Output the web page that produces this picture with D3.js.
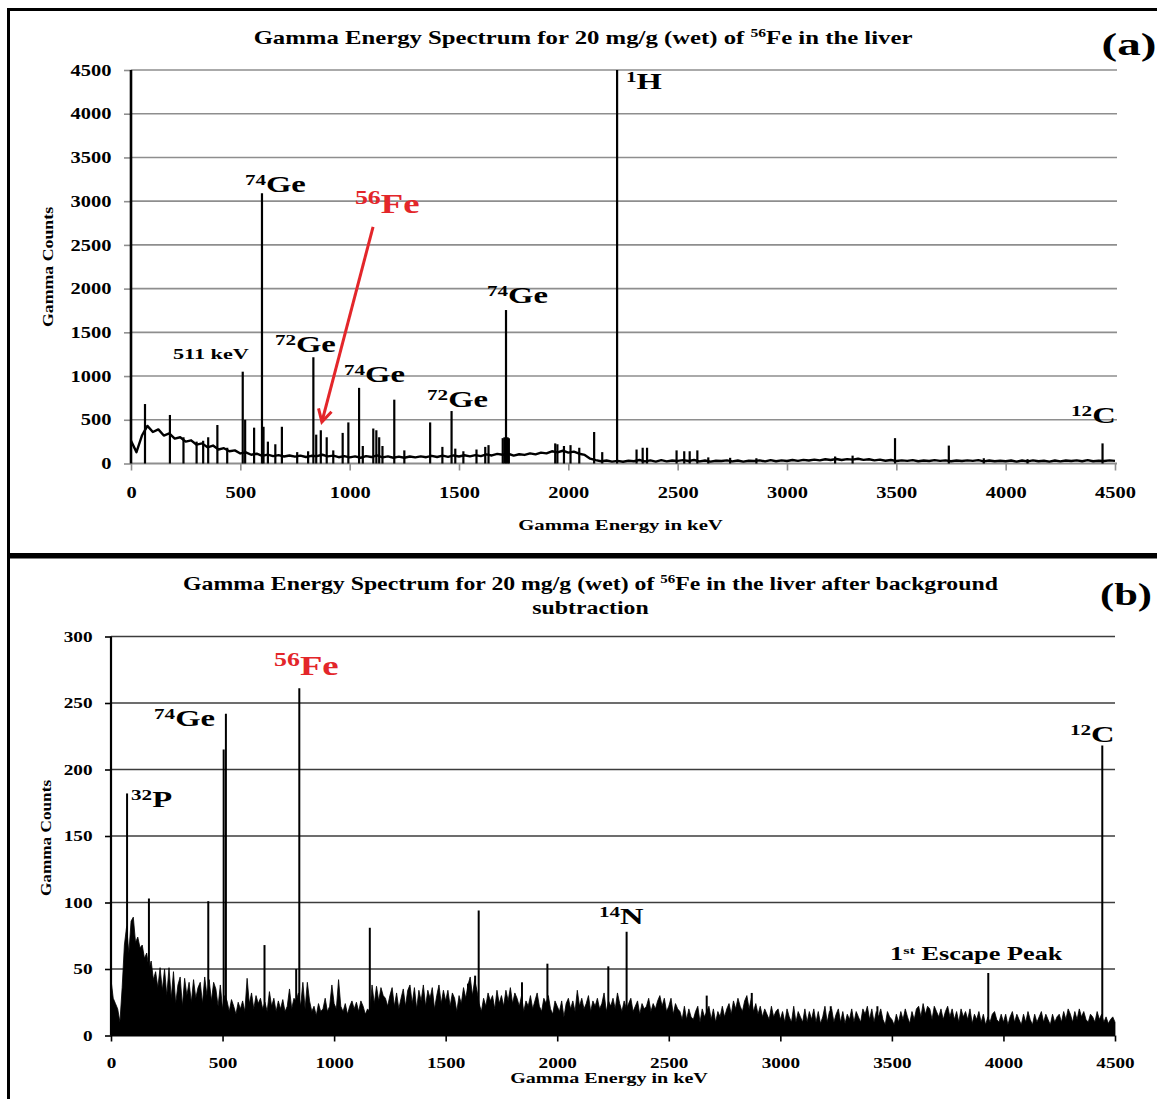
<!DOCTYPE html>
<html>
<head>
<meta charset="utf-8">
<script src="https://cdn.jsdelivr.net/npm/d3@7"></script>
<style>
body { margin: 0; background: #fff; }
svg { display: block; }
text { font-family: "Liberation Serif", "Times New Roman", serif; font-weight: bold; white-space: pre; }
</style>
</head>
<body>
<div id="chart"></div>
<script>
// ---- data ----
var energyTicks = [0, 500, 1000, 1500, 2000, 2500, 3000, 3500, 4000, 4500];
var countTicksA = [0, 500, 1000, 1500, 2000, 2500, 3000, 3500, 4000, 4500];
var countTicksB = [0, 50, 100, 150, 200, 250, 300];

// (a) continuum, one value every 25 keV
var stepA = 25;
var contA = [
  260, 130, 320, 430, 360, 390, 320, 345, 285, 300,
  250, 265, 215, 230, 185, 205, 160, 175, 140, 150,
  115, 128, 100, 112, 88, 102, 84, 96, 80, 92,
  78, 90, 74, 88, 84, 100, 82, 90, 72, 84,
  70, 82, 66, 84, 74, 92, 70, 82, 66, 78,
  66, 80, 70, 82, 72, 88, 74, 90, 76, 92,
  80, 94, 82, 96, 84, 104, 92, 110, 100, 112,
  90, 106, 98, 116, 104, 124, 116, 140, 128, 146,
  124, 136, 112, 98, 55, 38, 26, 34, 22, 30,
  20, 32, 26, 40, 24, 36, 22, 38, 24, 34,
  30, 38, 28, 40, 24, 34, 22, 32, 28, 36,
  24, 34, 22, 32, 28, 36, 24, 38, 26, 36,
  28, 40, 30, 42, 34, 44, 36, 48, 40, 52,
  40, 50, 44, 54, 42, 48, 36, 44, 32, 40,
  28, 36, 30, 38, 26, 34, 28, 38, 30, 36,
  26, 34, 28, 36, 30, 38, 24, 34, 26, 32,
  26, 34, 22, 34, 24, 36, 26, 32, 22, 34,
  24, 34, 28, 36, 26, 38, 26, 32, 28, 36,
  30
];
// (a) peaks [keV, counts]
var peaksA = [
  [64, 680], [178, 555], [240, 300], [300, 250], [330, 260], [353, 300], [395, 440], [440, 180],
  [511, 1050], [522, 500], [563, 410], [599, 3090], [606, 420], [626, 250], [660, 220], [690, 420],
  [760, 130], [810, 140], [834, 1215], [847, 330], [868, 380], [895, 300], [925, 150], [968, 350],
  [994, 470], [1043, 865], [1060, 200], [1108, 400], [1122, 380], [1135, 300], [1150, 200], [1204, 730],
  [1250, 150], [1368, 470], [1424, 190], [1466, 600], [1483, 170], [1520, 140], [1580, 160], [1620, 190],
  [1635, 210], [1700, 290], [1708, 300], [1715, 1755], [1722, 300], [1728, 290], [1940, 230], [1950, 220],
  [1980, 200], [2010, 210], [2050, 180], [2118, 360], [2155, 130], [2223, 4500], [2312, 160], [2340, 180],
  [2360, 180], [2495, 150], [2530, 140], [2555, 140], [2590, 150], [2640, 70], [2740, 65], [2860, 60],
  [3220, 80], [3300, 90], [3494, 290], [3740, 205], [3900, 60], [4100, 50], [4443, 230]
];

// (b) background-subtracted counts, one value every 10 keV
var stepB = 10;
var noiseB = [
  42, 28, 24, 20, 10, 36, 68, 82, 62, 86, 89, 70, 74, 66, 68, 58, 62, 50, 56, 42, 48, 36, 51, 34, 50,
  30, 51, 28, 48, 24, 38, 44, 22, 43, 30, 40, 25, 42, 28, 36, 40, 24, 44, 30, 42, 26, 40, 35, 22, 38,
  20, 30, 26, 18, 27, 22, 16, 25, 20, 26, 18, 43, 24, 32, 20, 30, 24, 28, 20, 25, 18, 33, 22, 28, 18,
  26, 20, 27, 18, 22, 35, 20, 28, 26, 32, 22, 40, 20, 40, 26, 18, 22, 15, 24, 18, 20, 28, 18, 22, 38,
  24, 20, 42, 22, 18, 24, 16, 22, 26, 20, 25, 18, 26, 22, 16, 20, 18, 38, 24, 37, 26, 36, 30, 28, 22,
  30, 36, 22, 32, 20, 28, 35, 22, 34, 38, 24, 36, 20, 34, 26, 38, 22, 34, 28, 36, 20, 30, 38, 24, 34,
  26, 34, 22, 32, 28, 18, 30, 24, 36, 28, 38, 44, 30, 42, 34, 24, 18, 28, 22, 32, 26, 30, 20, 34, 24,
  30, 22, 34, 26, 36, 24, 32, 28, 22, 30, 18, 26, 22, 30, 20, 26, 32, 22, 18, 28, 24, 30, 20, 16, 26,
  22, 18, 26, 14, 24, 28, 20, 26, 18, 34, 22, 28, 20, 24, 30, 18, 26, 22, 28, 20, 24, 32, 18, 26, 22,
  28, 20, 32, 24, 18, 26, 20, 24, 28, 18, 22, 26, 16, 24, 20, 22, 28, 18, 24, 20, 26, 30, 22, 28, 18,
  22, 28, 16, 24, 20, 18, 12, 22, 12, 20, 14, 12, 18, 22, 10, 20, 14, 18, 22, 12, 20, 10, 18, 14, 22,
  14, 20, 24, 16, 26, 20, 28, 22, 18, 26, 30, 20, 28, 18, 24, 16, 22, 14, 20, 16, 12, 22, 14, 18, 20,
  12, 18, 10, 20, 14, 10, 22, 10, 18, 14, 10, 20, 10, 18, 12, 20, 10, 18, 9, 14, 22, 10, 18, 20, 10,
  16, 20, 10, 18, 9, 16, 12, 20, 10, 18, 14, 10, 20, 16, 22, 12, 20, 10, 18, 14, 20, 12, 8, 18, 14,
  12, 8, 16, 10, 18, 12, 20, 14, 9, 18, 12, 20, 22, 14, 24, 16, 22, 20, 12, 22, 18, 14, 20, 12, 18,
  22, 14, 20, 12, 18, 10, 20, 14, 18, 12, 20, 9, 16, 12, 18, 10, 16, 8, 14, 10, 16, 18, 12, 10, 16,
  10, 16, 8, 14, 18, 10, 16, 12, 8, 16, 10, 18, 12, 8, 16, 10, 14, 18, 10, 16, 12, 8, 16, 10, 14,
  16, 10, 18, 12, 20, 16, 10, 18, 12, 20, 14, 18, 12, 10, 16, 14, 10, 18, 12, 16, 10, 14, 9, 12, 14,
  10
];
var peaksB = [
  [72, 182], [170, 103], [436, 101], [505, 215], [515, 242], [688, 68], [830, 50], [844, 261],
  [1160, 81], [1600, 39], [1632, 45], [1648, 94], [1842, 40], [1956, 54], [2229, 52], [2311, 78],
  [2670, 30], [2872, 32], [3226, 22], [3435, 22], [3932, 47], [4443, 218]
];

// annotations: parts alternate normal / superscript, anchored at [keV, counts]
var labelsA = [
  { parts: ["", "74", "Ge"], e: 521, c: 3107 },
  { parts: ["", "56", "Fe"], e: 1024, c: 2866 },
  { parts: ["", "74", "Ge"], e: 1628, c: 1837 },
  { parts: ["", "72", "Ge"], e: 658, c: 1276 },
  { parts: ["", "74", "Ge"], e: 974, c: 933 },
  { parts: ["", "72", "Ge"], e: 1354, c: 647 },
  { parts: ["", "1", "H"], e: 2264, c: 4285 },
  { parts: ["", "12", "C"], e: 4299, c: 463 }
];
var notesA = [{ parts: ["511 keV"], e: 192, c: 1196 }];
var arrowA = [[1107, 2706], [873, 475]];

var labelsB = [
  { parts: ["", "32", "P"], e: 90, c: 172 },
  { parts: ["", "74", "Ge"], e: 193, c: 233 },
  { parts: ["", "56", "Fe"], e: 731, c: 271 },
  { parts: ["", "14", "N"], e: 2187, c: 84 },
  { parts: ["", "12", "C"], e: 4298, c: 221 }
];
var notesB = [{ parts: ["1", "st", " Escape Peak"], e: 3492, c: 57 }];

var titleA = ["Gamma Energy Spectrum for 20 mg/g (wet) of ", "56", "Fe in the liver"];
var titleB1 = ["Gamma Energy Spectrum for 20 mg/g (wet) of ", "56", "Fe in the liver after background"];
var titleB2 = ["subtraction"];
var xTitle = "Gamma Energy in keV";
var yTitle = "Gamma Counts";

// ---- drawing ----
var RED = "#e3262a";
var svg = d3.select("#chart").append("svg").attr("width", 1157).attr("height", 1099);

// writes text parts, odd ones raised as superscripts
function rich(t, parts, fs, supFs, rise) {
  var cur = 0;
  parts.forEach(function(s, i) {
    if (!s) return;
    var target = (i % 2 === 1) ? -rise : 0;
    t.append("tspan").attr("dy", target - cur).attr("font-size", (i % 2 === 1) ? supFs : fs).text(s);
    cur = target;
  });
  return t;
}

// stretch a text horizontally to a given width
function fit(t, x, y, w, anchor, rot) {
  var bw = t.node().getBBox().width;
  t.attr("text-anchor", anchor)
    .attr("transform", "translate(" + x + "," + y + ")" + (rot ? " rotate(" + rot + ")" : "") + " scale(" + (w / bw) + ",1)");
}

function label(g, x, y, parts, fs, supFs, rise, sx, color) {
  var t = g.append("text").attr("fill", color || "#000")
    .attr("transform", "translate(" + x + "," + y + ") scale(" + sx + ",1)");
  rich(t, parts, fs, supFs, rise);
}

function drawPanel(cfg) {
  var g = svg.append("g");
  var x = d3.scaleLinear().domain([0, 4500]).range([cfg.left, cfg.right]);
  var y = d3.scaleLinear().domain([0, cfg.yMax]).range([cfg.bottom, cfg.top]);

  // grid
  g.append("g").selectAll("line").data(cfg.yTicks.slice(1)).join("line")
    .attr("x1", cfg.left).attr("x2", cfg.gridEnd)
    .attr("y1", function(d) { return y(d); }).attr("y2", function(d) { return y(d); })
    .attr("stroke", cfg.gridColor).attr("stroke-width", 1.6);

  // axes
  var ya = g.append("g").attr("transform", "translate(" + cfg.left + ",0)")
    .call(d3.axisLeft(y).tickValues(cfg.yTicks).tickSize(cfg.tickLen).tickFormat(d3.format("d")));
  var xa = g.append("g").attr("transform", "translate(0," + cfg.bottom + ")")
    .call(d3.axisBottom(x).tickValues(energyTicks).tickSize(cfg.tickLen).tickFormat(d3.format("d")));
  [ya, xa].forEach(function(a) {
    a.select(".domain").remove();
    a.selectAll(".tick line").attr("stroke", cfg.tickColor).attr("stroke-width", 1.6);
    a.selectAll("text").attr("font-family", null).attr("font-size", cfg.tickFs).attr("fill", "#000");
  });
  ya.selectAll("text").attr("x", -cfg.yLabGap / 1.28).attr("transform", "scale(1.28,1)");
  xa.selectAll("text").attr("dy", 0).attr("y", cfg.xLabBase - cfg.bottom).attr("transform", "scale(1.28,1)");

  g.append("line").attr("x1", cfg.left).attr("x2", cfg.gridEnd).attr("y1", cfg.bottom).attr("y2", cfg.bottom)
    .attr("stroke", cfg.baseColor).attr("stroke-width", 1.8);

  var plot = g.append("g");
  if (cfg.cont) {
    plot.append("path").datum(cfg.cont)
      .attr("d", d3.line().x(function(d, i) { return x(i * cfg.step); }).y(function(d) { return y(d); }))
      .attr("fill", "none").attr("stroke", "#000").attr("stroke-width", 2.4).attr("stroke-linejoin", "round");
  }
  if (cfg.noise) {
    var area = d3.area().x(function(d, i) { return x(i * cfg.step); }).y0(y(0)).y1(function(d) { return y(d); });
    plot.append("path").datum(cfg.noise).attr("d", area)
      .attr("fill", "#000").attr("stroke", "#000").attr("stroke-width", 0.8);
  }
  plot.selectAll(".peak").data(cfg.peaks).join("line")
    .attr("x1", function(d) { return x(d[0]); }).attr("x2", function(d) { return x(d[0]); })
    .attr("y1", y(0)).attr("y2", function(d) { return y(d[1]); })
    .attr("stroke", "#000").attr("stroke-width", cfg.peakW);

  g.append("line").attr("x1", cfg.left).attr("x2", cfg.left).attr("y1", cfg.bottom).attr("y2", cfg.top)
    .attr("stroke", "#000").attr("stroke-width", cfg.axisW);

  // isotope labels
  cfg.labels.forEach(function(l) {
    var fe = l.parts[2] === "Fe";
    label(g, x(l.e), y(l.c), l.parts, fe ? 27 : 24, fe ? 19 : 15.5, fe ? 9 : 7, 1.36, fe ? RED : "#000");
  });
  cfg.notes.forEach(function(l) {
    label(g, x(l.e), y(l.c), l.parts, cfg.noteFs, cfg.noteFs * 0.62, cfg.noteFs * 0.32, cfg.noteSx, "#000");
  });

  return { x: x, y: y, g: g };
}

// frames
svg.append("rect").attr("x", 8.5).attr("y", 9.5).attr("width", 1200).attr("height", 545)
  .attr("fill", "none").attr("stroke", "#000").attr("stroke-width", 3);
svg.append("rect").attr("x", 8.5).attr("y", 557).attr("width", 1200).attr("height", 600)
  .attr("fill", "none").attr("stroke", "#000").attr("stroke-width", 3);

var pa = drawPanel({
  left: 131, right: 1115, top: 70, bottom: 463.5, yMax: 4500, yTicks: countTicksA, gridEnd: 1117,
  gridColor: "#8e8e8e", tickColor: "#8e8e8e", baseColor: "#8e8e8e", tickLen: 7, tickFs: 16,
  yLabGap: 19.5, xLabBase: 498, axisW: 2.6, peakW: 2.2,
  step: stepA, cont: contA, peaks: peaksA, labels: labelsA, notes: notesA, noteFs: 15, noteSx: 1.48
});
var pb = drawPanel({
  left: 111, right: 1115, top: 636.5, bottom: 1035.5, yMax: 300, yTicks: countTicksB, gridEnd: 1115,
  gridColor: "#3c3c3c", tickColor: "#000", baseColor: "#000", tickLen: 6, tickFs: 15,
  yLabGap: 18.5, xLabBase: 1068, axisW: 2.2, peakW: 2,
  step: stepB, noise: noiseB, peaks: peaksB, labels: labelsB, notes: notesB, noteFs: 18, noteSx: 1.46
});

// arrow to the 56Fe line
var a0 = [pa.x(arrowA[0][0]), pa.y(arrowA[0][1])], a1 = [pa.x(arrowA[1][0]), pa.y(arrowA[1][1])];
var ang = Math.atan2(a1[1] - a0[1], a1[0] - a0[0]);
pa.g.append("line").attr("x1", a0[0]).attr("y1", a0[1]).attr("x2", a1[0]).attr("y2", a1[1])
  .attr("stroke", RED).attr("stroke-width", 3);
pa.g.append("path")
  .attr("d", d3.line()([
    [a1[0] - 14 * Math.cos(ang - 0.5), a1[1] - 14 * Math.sin(ang - 0.5)], a1,
    [a1[0] - 14 * Math.cos(ang + 0.5), a1[1] - 14 * Math.sin(ang + 0.5)]
  ]))
  .attr("fill", "none").attr("stroke", RED).attr("stroke-width", 3).attr("stroke-linejoin", "miter");

// titles
fit(rich(svg.append("text"), titleA, 19, 12, 7), 583, 43.5, 660, "middle");
fit(rich(svg.append("text"), titleB1, 19, 12, 7), 590.5, 590, 816, "middle");
fit(rich(svg.append("text"), titleB2, 19, 12, 7), 590.5, 614, 117, "middle");
fit(svg.append("text").attr("font-size", 31).text("(a)"), 1101.5, 54.5, 55, "start");
fit(svg.append("text").attr("font-size", 32).text("(b)"), 1100, 604.5, 52, "start");

// axis titles
fit(svg.append("text").attr("font-size", 15).text(xTitle), 620.5, 530, 205, "middle");
fit(svg.append("text").attr("font-size", 15).text(xTitle), 609, 1083, 198, "middle");
fit(svg.append("text").attr("font-size", 14).text(yTitle), 53, 267, 121, "middle", -90);
fit(svg.append("text").attr("font-size", 14).text(yTitle), 51, 838, 117, "middle", -90);
</script>
</body>
</html>
